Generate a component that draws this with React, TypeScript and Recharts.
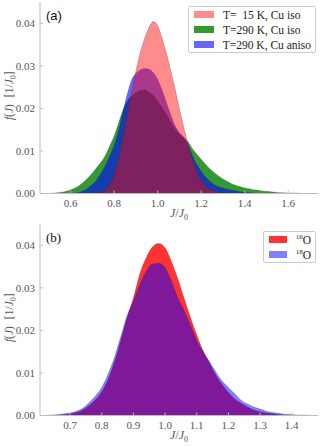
import { AreaChart, Area, XAxis, YAxis, Legend } from 'recharts';

// panel (a): J/J0 grid and the three distributions
const J_A = [
  0.46, 0.48, 0.5, 0.52, 0.54, 0.56, 0.58, 0.6, 0.62, 0.64, 0.66, 0.68, 0.7, 0.72, 0.74, 0.76,
  0.78, 0.8, 0.82, 0.84, 0.86, 0.88, 0.9, 0.92, 0.94, 0.96, 0.98, 1.0, 1.02, 1.04, 1.06, 1.08,
  1.1, 1.12, 1.14, 1.16, 1.18, 1.2, 1.22, 1.24, 1.26, 1.28, 1.3, 1.32, 1.34, 1.36, 1.38, 1.4,
  1.42, 1.44, 1.46, 1.48, 1.5, 1.52, 1.54, 1.56, 1.58, 1.6, 1.62, 1.64, 1.66, 1.68, 1.7, 1.72,
];
const T15_ISO = [
  0, 0, 0, 0, 0, 0, 0, 0, 0, 0, 0, 0, 0, 0.0001, 0.0003, 0.0009,
  0.0021, 0.0045, 0.008, 0.013, 0.0183, 0.0238, 0.0288, 0.0331, 0.0364, 0.039, 0.0404, 0.0394, 0.0365, 0.033, 0.0289, 0.0246,
  0.0199, 0.0155, 0.0116, 0.008, 0.0051, 0.0031, 0.0019, 0.001, 0.0006, 0.0003, 0.0001, 0, 0, 0, 0, 0,
  0, 0, 0, 0, 0, 0, 0, 0, 0, 0, 0, 0, 0, 0, 0, 0,
];
const T290_ISO = [
  0, 0, 0, 0.0001, 0.0002, 0.0003, 0.0005, 0.0009, 0.0013, 0.0019, 0.0027, 0.0037, 0.0048, 0.0061, 0.0074, 0.009,
  0.0112, 0.0135, 0.0165, 0.0195, 0.0217, 0.0229, 0.0237, 0.0242, 0.0243, 0.0238, 0.023, 0.0217, 0.0202, 0.0186, 0.0168, 0.0151,
  0.014, 0.0131, 0.0121, 0.0105, 0.0092, 0.008, 0.0069, 0.0058, 0.0049, 0.0041, 0.0034, 0.0028, 0.0023, 0.0019, 0.0016, 0.0013,
  0.0011, 0.0009, 0.0008, 0.0006, 0.0005, 0.0004, 0.0003, 0.0002, 0.0002, 0.0001, 0.0001, 0.0001, 0, 0, 0, 0,
];
const T290_ANISO = [
  0, 0, 0, 0, 0, 0, 0, 0, 0.0001, 0.0003, 0.0007, 0.0013, 0.0021, 0.0032, 0.0048, 0.0066,
  0.0089, 0.0113, 0.0148, 0.0192, 0.0233, 0.0267, 0.0282, 0.029, 0.0294, 0.0292, 0.0284, 0.0268, 0.0243, 0.0214, 0.0185, 0.0159,
  0.0143, 0.0132, 0.0114, 0.0089, 0.0068, 0.0052, 0.0039, 0.0029, 0.0021, 0.0016, 0.0013, 0.001, 0.0008, 0.0006, 0.0004, 0.0003,
  0.0002, 0.0001, 0, 0, 0, 0, 0, 0, 0, 0, 0, 0, 0, 0, 0, 0,
];

// panel (b): oxygen isotopes
const J_B = [
  0.6, 0.62, 0.64, 0.66, 0.68, 0.7, 0.72, 0.74, 0.76, 0.78, 0.8, 0.82, 0.84, 0.86, 0.88, 0.9,
  0.92, 0.94, 0.96, 0.98, 1.0, 1.02, 1.04, 1.06, 1.08, 1.1, 1.12, 1.14, 1.16, 1.18, 1.2, 1.22,
  1.24, 1.26, 1.28, 1.3, 1.32, 1.34, 1.36, 1.38, 1.4, 1.42, 1.44, 1.46, 1.48,
];
const O16 = [
  0, 0, 0, 0.0001, 0.0002, 0.0004, 0.0007, 0.0013, 0.0023, 0.0037, 0.0055, 0.0085, 0.0125, 0.0175, 0.023, 0.0276,
  0.0332, 0.037, 0.0396, 0.0404, 0.0394, 0.0362, 0.0322, 0.0276, 0.0231, 0.019, 0.0152, 0.0124, 0.0095, 0.0073, 0.0054, 0.0039,
  0.0029, 0.002, 0.0013, 0.0009, 0.0006, 0.0004, 0.0002, 0.0001, 0.0001, 0, 0, 0, 0,
];
const O18 = [
  0, 0, 0.0001, 0.0002, 0.0004, 0.0006, 0.001, 0.0017, 0.003, 0.0046, 0.0066, 0.0097, 0.0136, 0.0185, 0.0234, 0.0268,
  0.0307, 0.0338, 0.0356, 0.0358, 0.0347, 0.0316, 0.0277, 0.0247, 0.0213, 0.0176, 0.015, 0.0127, 0.0103, 0.0081, 0.0066, 0.0051,
  0.0036, 0.0027, 0.002, 0.0015, 0.001, 0.0007, 0.0005, 0.0003, 0.0002, 0.0001, 0.0001, 0, 0,
];

const Y_TICKS = [0, 0.01, 0.02, 0.03, 0.04];
const X_TICKS_A = [0.6, 0.8, 1.0, 1.2, 1.4, 1.6];
const X_TICKS_B = [0.7, 0.8, 0.9, 1.0, 1.1, 1.2, 1.3, 1.4];

const dataA = J_A.map((j, i) => ({ j, t15: T15_ISO[i], iso: T290_ISO[i], aniso: T290_ANISO[i] }));
const dataB = J_B.map((j, i) => ({ j, o16: O16[i], o18: O18[i] }));

const W = 322;
const H = 222;
const FRAME = '#bdbdbd';
const TICK_TEXT = '#555555';
const SERIF = '"Liberation Serif", "DejaVu Serif", serif';

type Series = { key: string; color: string; opacity: number; label: React.ReactNode };

const SERIES_A: Series[] = [
  { key: 'iso', color: '#008000', opacity: 0.8, label: 'T=290 K, Cu iso' },
  { key: 'aniso', color: '#0000ff', opacity: 0.6, label: 'T=290 K, Cu aniso' },
  { key: 't15', color: '#ff0000', opacity: 0.45, label: 'T=  15 K, Cu iso' },
];
const LEGEND_A = [SERIES_A[2], SERIES_A[0], SERIES_A[1]];

const SERIES_B: Series[] = [
  { key: 'o16', color: '#ff0000', opacity: 0.8, label: <><sup style={{ fontSize: 7 }}>16</sup>O</> },
  { key: 'o18', color: '#0000ff', opacity: 0.5, label: <><sup style={{ fontSize: 7 }}>18</sup>O</> },
];

function LegendBox({ items }: { items: Series[] }) {
  return (
    <div
      style={{
        border: '1px solid #cccccc',
        borderRadius: 2,
        background: 'rgba(255,255,255,0.85)',
        padding: '0 4px 0 5px',
        fontFamily: SERIF,
        fontSize: 11.5,
        color: '#222',
      }}
    >
      {items.map((it) => (
        <div key={it.key} style={{ display: 'flex', alignItems: 'center', height: 15, whiteSpace: 'pre' }}>
          <span
            style={{ display: 'inline-block', width: 20, height: 6.5, background: it.color, opacity: it.opacity, marginRight: 9 }}
          />
          <span>{it.label}</span>
        </div>
      ))}
    </div>
  );
}

const XLabel = ({ viewBox }: any) => (
  <text x={viewBox.x + viewBox.width / 2} y={viewBox.y + 23.5} textAnchor="middle" fill={TICK_TEXT} fontFamily={SERIF} fontSize={12}>
    <tspan fontStyle="italic">J</tspan>
    <tspan>/</tspan>
    <tspan fontStyle="italic">J</tspan>
    <tspan fontSize={8} dy={3}>0</tspan>
  </text>
);

const YLabel = ({ viewBox }: any) => {
  const x = viewBox.x + 13;
  const y = viewBox.y + viewBox.height / 2 - 2;
  return (
    <text x={x} y={y} transform={`rotate(-90 ${x} ${y})`} textAnchor="middle" fill={TICK_TEXT} fontFamily={SERIF} fontSize={11.5}>
      <tspan fontStyle="italic">f</tspan>
      <tspan>(</tspan>
      <tspan fontStyle="italic">J</tspan>
      <tspan>)</tspan>
      <tspan dx={7}>[1/</tspan>
      <tspan fontStyle="italic">J</tspan>
      <tspan fontSize={8} dy={3}>0</tspan>
      <tspan dy={-3}>]</tspan>
    </text>
  );
};

function Panel({
  data,
  domain,
  xTicks,
  series,
  legendItems,
  legendPos,
  tag,
  tagFont,
}: {
  data: any[];
  domain: [number, number];
  xTicks: number[];
  series: Series[];
  legendItems: Series[];
  legendPos: { left: number; top: number; width: number };
  tag: string;
  tagFont: string;
}) {
  const tickStyle = { fill: TICK_TEXT, fontSize: 11, fontFamily: SERIF };
  return (
    <AreaChart width={W} height={H} data={data} margin={{ top: 2, right: 4, bottom: 0, left: 0 }} style={{ fontFamily: SERIF }}>
      <XAxis
        dataKey="j"
        type="number"
        domain={domain}
        ticks={xTicks}
        allowDataOverflow
        tickFormatter={(v: number) => v.toFixed(1)}
        tick={tickStyle}
        tickSize={-3}
        tickMargin={9}
        tickLine={{ stroke: FRAME }}
        axisLine={{ stroke: FRAME }}
        height={28.5}
        label={<XLabel />}
      />
      <XAxis
        xAxisId="top"
        orientation="top"
        type="number"
        domain={domain}
        ticks={xTicks}
        allowDataOverflow
        tick={false}
        tickSize={-3}
        tickLine={{ stroke: FRAME }}
        axisLine={{ stroke: FRAME }}
        height={0}
      />
      <YAxis
        type="number"
        domain={[0, 0.045]}
        ticks={Y_TICKS}
        allowDataOverflow
        tickFormatter={(v: number) => v.toFixed(2)}
        tick={tickStyle}
        tickSize={-3}
        tickMargin={8}
        tickLine={{ stroke: FRAME }}
        axisLine={{ stroke: FRAME }}
        width={40}
        label={<YLabel />}
      />
      <YAxis
        yAxisId="right"
        orientation="right"
        type="number"
        domain={[0, 0.045]}
        ticks={Y_TICKS}
        allowDataOverflow
        tick={false}
        tickSize={-3}
        tickLine={{ stroke: FRAME }}
        axisLine={{ stroke: FRAME }}
        width={0}
      />
      {series.map((s) => (
        <Area
          key={s.key}
          type="monotone"
          dataKey={s.key}
          stroke="#333333"
          strokeOpacity={0.35}
          strokeWidth={0.7}
          fill={s.color}
          fillOpacity={s.opacity}
          dot={false}
          activeDot={false}
          isAnimationActive={false}
        />
      ))}
      <Legend
        layout="vertical"
        align="center"
        verticalAlign="middle"
        wrapperStyle={{ ...legendPos }}
        content={() => <LegendBox items={legendItems} />}
      />
      <text x={46} y={19.5} fontFamily={tagFont} fontSize={13} fill="#111">
        {tag}
      </text>
    </AreaChart>
  );
}

export default function App() {
  return (
    <div style={{ position: 'absolute', left: 0, top: 0, width: W, height: 446, background: '#fff', fontFamily: SERIF }}>
      <div style={{ position: 'absolute', left: 0, top: 0 }}>
        <Panel
          data={dataA}
          domain={[0.459, 1.737]}
          xTicks={X_TICKS_A}
          series={SERIES_A}
          legendItems={LEGEND_A}
          legendPos={{ left: 188, top: 6, width: 128 }}
          tag="(a)"
          tagFont='"Liberation Sans", Arial, sans-serif'
        />
      </div>
      <div style={{ position: 'absolute', left: 0, top: 222 }}>
        <Panel
          data={dataB}
          domain={[0.605, 1.483]}
          xTicks={X_TICKS_B}
          series={SERIES_B}
          legendItems={SERIES_B}
          legendPos={{ left: 263, top: 9, width: 53 }}
          tag="(b)"
          tagFont={SERIF}
        />
      </div>
    </div>
  );
}
